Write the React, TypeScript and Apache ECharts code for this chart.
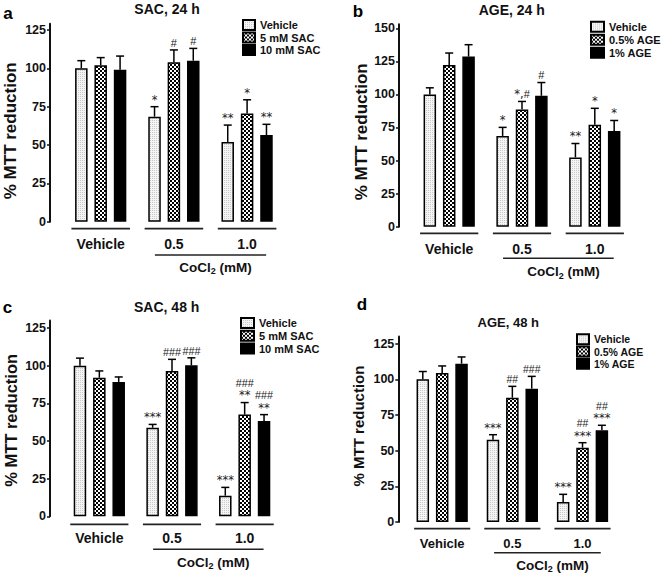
import React, { useEffect, useRef } from "react";
import * as echarts from "echarts";

const groupLabels = ["Vehicle", "0.5", "1.0"];
const sacNames = ["Vehicle", "5 mM SAC", "10 mM SAC"];
const ageNames = ["Vehicle", "0.5% AGE", "1% AGE"];
const ticks125 = [0, 25, 50, 75, 100, 125];
const ticks150 = [0, 25, 50, 75, 100, 125, 150];

// Panel a: SAC, 24 h
const aVehicle = [100, 68.5, 52];
const aVehicleErr = [5, 6.5, 11];
const aSac5 = [102, 104, 70.5];
const aSac5Err = [5, 8, 9];
const aSac10 = [99, 105, 56.5];
const aSac10Err = [9, 8, 7];
const aVehicleSig = ["", "*", "**"];
const aSac5Sig = ["", "#", "*"];
const aSac10Sig = ["", "#", "**"];

// Panel b: AGE, 24 h
const bVehicle = [100, 68.6, 52.4];
const bVehicleErr = [5, 6.5, 10.5];
const bAge05 = [122.3, 88.7, 77];
const bAge05Err = [9, 6, 12.5];
const bAge1 = [128.6, 99, 72.3];
const bAge1Err = [9, 10, 8];
const bVehicleSig = ["", "*", "**"];
const bAge05Sig = ["", "*,#", "*"];
const bAge1Sig = ["", "#", "*"];

// Panel c: SAC, 48 h
const cVehicle = [100, 58.8, 13.7];
const cVehicleErr = [5, 2.2, 5.5];
const cSac5 = [92, 96.5, 67.5];
const cSac5Err = [4.5, 7.7, 8];
const cSac10 = [89.2, 100.2, 63.3];
const cSac10Err = [3.3, 5, 4.2];
const cVehicleSig = ["", "***", "***"];
const cSac5Sig = ["", "###", "###\n**"];
const cSac10Sig = ["", "###", "###\n**"];

// Panel d: AGE, 48 h
const dVehicle = [100, 57.7, 14];
const dVehicleErr = [5.5, 3.5, 5.4];
const dAge05 = [104.4, 87.1, 52.1];
const dAge05Err = [5, 8, 3.5];
const dAge1 = [111, 93.5, 64.3];
const dAge1Err = [4.7, 8.6, 3.5];
const dVehicleSig = ["", "***", "***"];
const dAge05Sig = ["", "##", "##\n***"];
const dAge1Sig = ["", "###", "##\n***"];

const FONT = '"Liberation Sans", Arial, sans-serif';
const STAR_FONT = '"DejaVu Sans", sans-serif';
const INK = "#111";
const SIG = "#1a1a1a";

function makePattern(kind: string): any {
  const c = document.createElement("canvas");
  const ctx = c.getContext("2d") as CanvasRenderingContext2D;
  if (kind === "dots") {
    c.width = 2;
    c.height = 2;
    ctx.fillStyle = "#f4f4f4";
    ctx.fillRect(0, 0, 2, 2);
    ctx.fillStyle = "#c9c9c9";
    ctx.fillRect(0, 0, 1, 1);
  } else {
    c.width = 4;
    c.height = 4;
    ctx.fillStyle = "#000";
    ctx.fillRect(0, 0, 4, 4);
    ctx.fillStyle = "#fff";
    ctx.fillRect(0, 0, 2, 2);
    ctx.fillRect(2, 2, 2, 2);
  }
  return { image: c, repeat: "repeat" };
}

const panels = [
  {
    letter: "a", title: "SAC, 24 h", names: sacNames,
    values: [aVehicle, aSac5, aSac10], errs: [aVehicleErr, aSac5Err, aSac10Err], sigs: [aVehicleSig, aSac5Sig, aSac10Sig],
    ticks: ticks125, max: 129, axisX: 50, zeroY: 221.7, ppu: 1.5336, gridLeft: 64.1, gridWidth: 219.6,
    nameGap: 31, nameShift: 8, nameSize: 17, catSize: 14, underDy: 7, coDy: 33.3, coLabelDy: 45.3,
    titleX: 167, titleY: 9, titleSize: 14, letterX: 8, letterY: 13, hashSize: 12,
    legendLeft: 242, legendTop: 19, legendGap: 0.5, legendW: 12, legendSize: 11,
  },
  {
    letter: "b", title: "AGE, 24 h", names: ageNames,
    values: [bVehicle, bAge05, bAge1], errs: [bVehicleErr, bAge05Err, bAge1Err], sigs: [bVehicleSig, bAge05Sig, bAge1Sig],
    ticks: ticks150, max: 153, axisX: 399, zeroY: 226.7, ppu: 1.3227, gridLeft: 412.8, gridWidth: 218.4,
    nameGap: 27, nameShift: 6.3, nameSize: 17, catSize: 14, underDy: 6.6, coDy: 31.6, coLabelDy: 45,
    titleX: 511.7, titleY: 10, titleSize: 14, letterX: 358, letterY: 11, hashSize: 12,
    legendLeft: 590, legendTop: 20.7, legendGap: 1, legendW: 13, legendSize: 11,
  },
  {
    letter: "c", title: "SAC, 48 h", names: sacNames,
    values: [cVehicle, cSac5, cSac10], errs: [cVehicleErr, cSac5Err, cSac10Err], sigs: [cVehicleSig, cSac5Sig, cSac10Sig],
    ticks: ticks125, max: 130, axisX: 50, zeroY: 516.3, ppu: 1.5064, gridLeft: 63, gridWidth: 218,
    nameGap: 31, nameShift: 2, nameSize: 16.5, catSize: 14, underDy: 8, coDy: 33, coLabelDy: 45.7,
    titleX: 166.7, titleY: 307, titleSize: 14, letterX: 7.5, letterY: 307, hashSize: 10.8,
    legendLeft: 240, legendTop: 317, legendGap: 0.8, legendW: 13, legendSize: 11,
  },
  {
    letter: "d", title: "AGE, 48 h", names: ageNames,
    values: [dVehicle, dAge05, dAge1], errs: [dVehicleErr, dAge05Err, dAge1Err], sigs: [dVehicleSig, dAge05Sig, dAge1Sig],
    ticks: ticks125, max: 130, axisX: 398.3, zeroY: 522, ppu: 1.4264, gridLeft: 407.1, gridWidth: 210.5,
    nameGap: 32, nameShift: -3.3, nameSize: 15, catSize: 13, underDy: 6.7, coDy: 30.7, coLabelDy: 43,
    titleX: 508.3, titleY: 322, titleSize: 13, letterX: 362, letterY: 304, hashSize: 10.5,
    legendLeft: 576, legendTop: 333.3, legendGap: 0.2, legendW: 12, legendSize: 10.5,
  },
];

const BAR_W = 12.5;
const BAR_GAP = 0.55;
const PITCH = BAR_W * (1 + BAR_GAP);

function sigMarkup(s: string): string {
  return s
    .split("\n")
    .map((line) => line.replace(/(\*+)/g, "{s|$1}").replace(/(#+)/g, "{h|$1}").replace(/,/g, "{s|,}"))
    .join("\n");
}

export default function App() {
  const ref = useRef<HTMLDivElement>(null);
  useEffect(() => {
    document.body.style.margin = "0";
    if (!ref.current) return;
    const chart = echarts.init(ref.current, null, { renderer: "svg" });
    const fills = [makePattern("dots"), makePattern("checker"), "#000"];
    const grid: any[] = [];
    const xAxis: any[] = [];
    const yAxis: any[] = [];
    const series: any[] = [];
    const legend: any[] = [];
    const graphic: any[] = [];

    panels.forEach((p, k) => {
      const h = p.max * p.ppu;
      grid.push({ left: p.gridLeft, top: p.zeroY - h, width: p.gridWidth, height: h, containLabel: false });
      xAxis.push({
        type: "category", gridIndex: k, data: groupLabels,
        axisLine: { show: false }, axisTick: { show: false }, splitLine: { show: false },
        axisLabel: { fontSize: p.catSize, fontWeight: "bold", fontFamily: FONT, color: INK, margin: 15 },
      });
      const pad = p.nameShift >= 0 ? [0, 2 * p.nameShift, 0, 0] : [0, 0, 0, -2 * p.nameShift];
      yAxis.push({
        type: "value", gridIndex: k, min: 0, max: p.max, interval: 25, offset: p.gridLeft - p.axisX,
        splitLine: { show: false },
        axisLine: { show: true, lineStyle: { color: INK, width: 2 } },
        axisTick: { show: true, length: 3, lineStyle: { color: INK, width: 1.5 }, customValues: p.ticks },
        axisLabel: { customValues: p.ticks, fontSize: 12.5, fontWeight: "bold", fontFamily: FONT, color: INK, margin: 4 },
        name: "% MTT reduction", nameLocation: "middle", nameRotate: 90, nameGap: p.nameGap,
        nameTextStyle: { fontSize: p.nameSize, fontWeight: "bold", fontFamily: FONT, color: INK, padding: pad },
      });
      p.values.forEach((vals, i) => {
        series.push({
          type: "bar", name: p.names[i], xAxisIndex: k, yAxisIndex: k, data: vals,
          barWidth: BAR_W, barGap: BAR_GAP * 100 + "%",
          itemStyle: { color: fills[i], borderColor: "#000", borderWidth: 1.5 },
          z: 2,
        });
        const errs = p.errs[i];
        series.push({
          type: "custom", name: "err-" + p.letter + i, xAxisIndex: k, yAxisIndex: k, z: 4, clip: false,
          itemStyle: { color: "#000" },
          data: vals.map((v, j) => [j, v, errs[j]]),
          encode: { x: 0, y: 1 },
          renderItem: (params: any, api: any) => {
            const cat = api.value(0);
            const v = api.value(1);
            const e = api.value(2);
            const base = api.coord([cat, v]);
            const top = api.coord([cat, v + e]);
            const x = base[0] + (i - 1) * PITCH;
            return {
              type: "group",
              children: [
                { type: "line", shape: { x1: x, y1: base[1], x2: x, y2: top[1] }, style: { stroke: "#000", lineWidth: 1.5 } },
                { type: "line", shape: { x1: x - 4, y1: top[1], x2: x + 4, y2: top[1] }, style: { stroke: "#000", lineWidth: 1.5 } },
              ],
            };
          },
        });
      });
      series.push({
        type: "custom", name: "under-" + p.letter, xAxisIndex: k, yAxisIndex: k, z: 4, clip: false,
        itemStyle: { color: INK },
        data: [[0, 0], [1, 0], [2, 0]],
        encode: { x: 0, y: 1 },
        renderItem: (params: any, api: any) => {
          const c = api.coord([api.value(0), 0]);
          const band = api.size([1, 0])[0];
          const y = c[1] + p.underDy;
          return {
            type: "line", shape: { x1: c[0] - band * 0.4, y1: y, x2: c[0] + band * 0.4, y2: y },
            style: { stroke: "#222", lineWidth: 1.8 },
          };
        },
      });
      series.push({
        type: "custom", name: "cocl-" + p.letter, xAxisIndex: k, yAxisIndex: k, z: 4, clip: false,
        itemStyle: { color: INK },
        data: [[1, 2]],
        encode: { x: 0, y: 1 },
        renderItem: (params: any, api: any) => {
          const c1 = api.coord([api.value(0), 0]);
          const c2 = api.coord([api.value(1), 0]);
          const band = api.size([1, 0])[0];
          const x1 = c1[0] - band * 0.26;
          const x2 = c2[0] + band * 0.26;
          const y = c1[1] + p.coDy;
          return {
            type: "group",
            children: [
              { type: "line", shape: { x1, y1: y, x2, y2: y }, style: { stroke: "#222", lineWidth: 1.5 } },
              {
                type: "text", x: (x1 + x2) / 2 + 5, y: c1[1] + p.coLabelDy,
                style: {
                  legacy: false,
                  text: "{n|CoCl}{sub|2}{n| (mM)}", align: "center", verticalAlign: "middle", fill: INK,
                  rich: {
                    n: { fontFamily: FONT, fontSize: 13.5, fontWeight: "bold", fill: INK },
                    sub: { fontFamily: FONT, fontSize: 9, fontWeight: "bold", fill: INK, padding: [8, 0, 0, 0] },
                  },
                },
              },
            ],
          };
        },
      });
      legend.push({
        orient: "vertical", left: p.legendLeft, top: p.legendTop, itemWidth: p.legendW, itemHeight: 10,
        itemGap: p.legendGap, selectedMode: false, icon: "rect", padding: 0,
        data: p.names,
        textStyle: { fontSize: p.legendSize, fontWeight: "bold", fontFamily: FONT, color: INK, lineHeight: 12 },
      });
      graphic.push({
        type: "text", x: p.titleX, y: p.titleY,
        style: { text: p.title, font: `bold ${p.titleSize}px ${FONT}`, fill: INK, align: "center", verticalAlign: "middle", textAlign: "center", textVerticalAlign: "middle" },
      });
      graphic.push({
        type: "text", x: p.letterX, y: p.letterY,
        style: { text: p.letter, font: `bold 17px ${FONT}`, fill: "#000", align: "center", verticalAlign: "middle", textAlign: "center", textVerticalAlign: "middle" },
      });
    });

    chart.setOption({
      animation: false,
      backgroundColor: "#fff",
      grid, xAxis, yAxis, series, legend,
    });

    // significance marks, placed above each error-bar cap through the axes' scales
    panels.forEach((p, k) => {
      p.values.forEach((vals, i) => {
        vals.forEach((v, j) => {
          const s = p.sigs[i][j];
          if (!s) return;
          const pt = chart.convertToPixel({ xAxisIndex: k, yAxisIndex: k }, [j, v + p.errs[i][j]]) as number[];
          const x = pt[0] + (i - 1) * PITCH;
          graphic.push({
            type: "text", x, y: pt[1] - 1, z: 10,
            style: {
              legacy: false,
              text: sigMarkup(s),
              fill: SIG, align: "center", verticalAlign: "bottom",
              rich: {
                s: { fontFamily: STAR_FONT, fontSize: 11.5, fill: SIG, lineHeight: 12.2 },
                h: { fontFamily: FONT, fontSize: Math.min(p.hashSize, 11), fill: SIG, lineHeight: 12.2 },
              },
            },
          });
        });
      });
    });
    chart.setOption({ graphic });
    return () => chart.dispose();
  }, []);
  return <div ref={ref} style={{ width: 661, height: 574 }} />;
}
